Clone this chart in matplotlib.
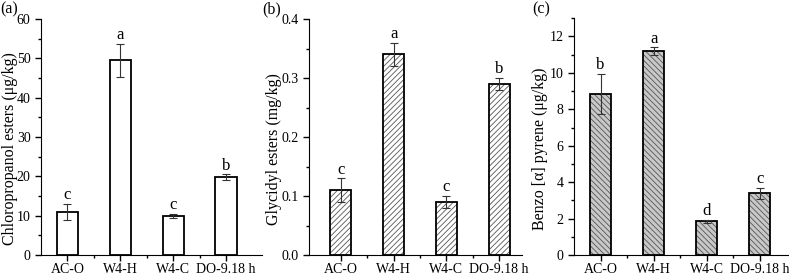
import numpy as np
import matplotlib
matplotlib.use('Agg')
import matplotlib.pyplot as plt
from matplotlib.ticker import MultipleLocator

plt.rcParams['font.family'] = ['Liberation Serif', 'DejaVu Serif']
plt.rcParams['hatch.linewidth'] = 0.6

#sample names and values
samples = ['AC-O', 'W4-H', 'W4-C', 'DO-9.18 h']

cp_mean = [11.0, 49.5, 10.0, 19.8]
cp_err = [2.0, 4.2, 0.5, 0.7]
cp_sig = ['c', 'a', 'c', 'b']

ge_mean = [0.11, 0.34, 0.09, 0.29]
ge_err = [0.02, 0.02, 0.01, 0.01]
ge_sig = ['c', 'a', 'c', 'b']

bap_mean = [8.85, 11.2, 1.85, 3.4]
bap_err = [1.1, 0.2, 0.07, 0.3]
bap_sig = ['b', 'a', 'd', 'c']

fig = plt.figure(figsize=(7.89, 2.76), dpi=100)

panels = [
    # rect, means, errs, letters, ylabel, ylim, major, minor, xlim, fill, hatch, tag, tag x, label x
    ([0.052, 0.076, 0.280, 0.855], cp_mean, cp_err, cp_sig,
     'Chloropropanol esters (\u03bcg/kg)', 60, 10, 5, (-0.5, 3.68), 'white', None, '(a)', 0.0, -0.105),
    ([0.392, 0.076, 0.270, 0.855], ge_mean, ge_err, ge_sig,
     'Glycidyl esters (mg/kg)', 0.4, 0.1, 0.05, (-0.6, 3.44), 'white', '//////', '(b)', 0.332, -0.13),
    ([0.7275, 0.076, 0.2725, 0.858], bap_mean, bap_err, bap_sig,
     'Benzo [\u03b1] pyrene (\u03bcg/kg)', 13, 2, 1, (-0.5, 3.55), '#c8c8c8', '\\\\\\\\\\\\', '(c)', 0.674, -0.12),
]

x = np.arange(len(samples))
for rect, mean, err, sig, ylab, ytop, major, minor, xlim, fill, hatch, tag, tagx, labx in panels:
    ax = fig.add_axes(rect)
    if hatch:
        ax.bar(x, mean, width=0.4, color=fill, edgecolor='#555555', hatch=hatch,
               linewidth=0, zorder=2)
        ax.bar(x, mean, width=0.4, fill=False, edgecolor='black', linewidth=1.3, zorder=3)
    else:
        ax.bar(x, mean, width=0.4, color=fill, edgecolor='black', linewidth=1.3, zorder=3)
    ax.errorbar(x, mean, yerr=err, fmt='none', ecolor='#333333', elinewidth=0.8,
                capsize=3, capthick=0.8, zorder=4)
    for xi, m, e, s in zip(x, mean, err, sig):
        ax.text(xi, m + e + ytop * 0.003, s, ha='center', va='bottom', fontsize=12)
    ax.set_ylim(0, ytop)
    ax.set_xlim(*xlim)
    ax.yaxis.set_major_locator(MultipleLocator(major))
    ax.yaxis.set_minor_locator(MultipleLocator(minor))
    ax.set_xticks(x)
    ax.set_xticks(x[:-1] + 0.5, minor=True)
    ax.set_xticklabels(samples)
    ax.spines['top'].set_visible(False)
    ax.spines['right'].set_visible(False)
    ax.tick_params(which='major', direction='out', length=4, width=1, labelsize=10)
    ax.tick_params(which='minor', direction='out', length=2.5, width=1)
    ax.tick_params(axis='x', pad=2)
    ax.set_ylabel(ylab, fontsize=11.5)
    ax.yaxis.set_label_coords(labx, 0.45)
    fig.text(tagx, 0.995, tag, fontsize=11.5, va='top', ha='left')
    if ytop < 1:
        ax.yaxis.set_major_formatter(plt.FormatStrFormatter('%.1f'))

fig.savefig('out.png', dpi=100)
